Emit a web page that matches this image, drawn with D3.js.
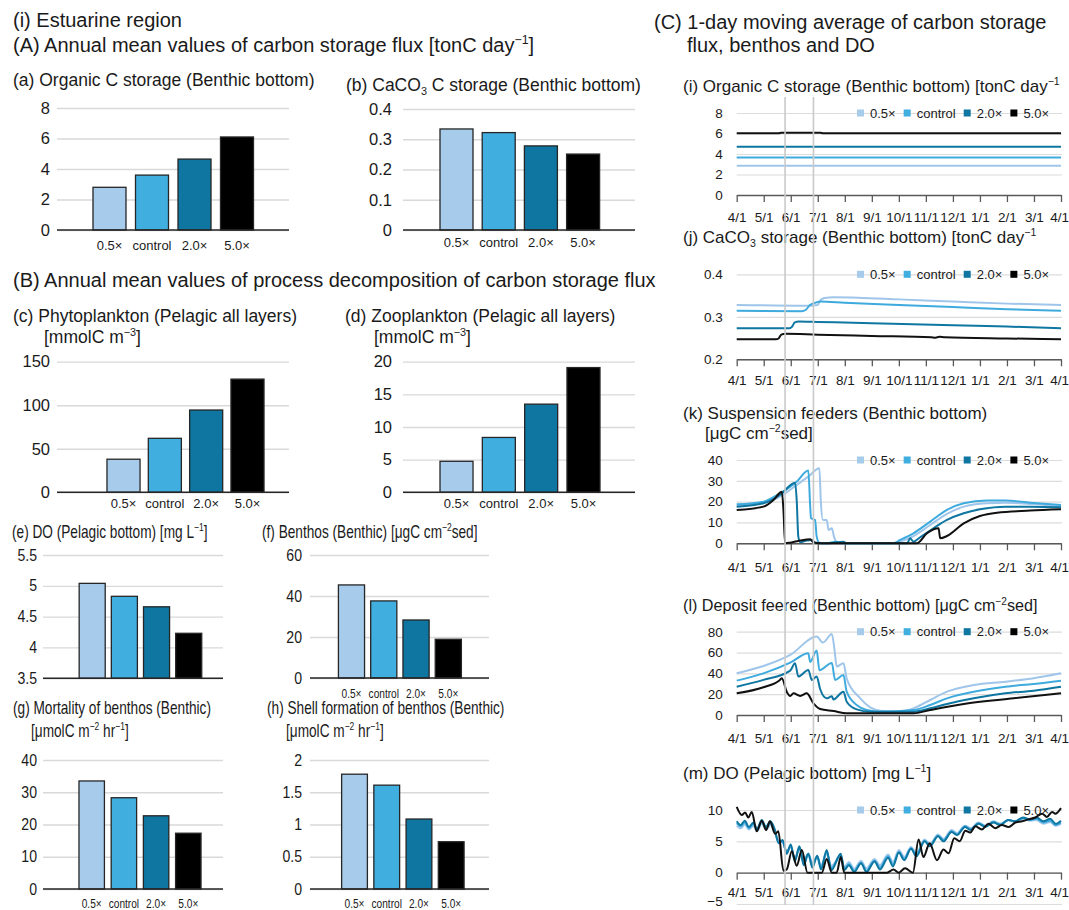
<!DOCTYPE html>
<html>
<head>
<meta charset="utf-8">
<script src="https://cdn.jsdelivr.net/npm/d3@7"></script>
<style>
  body { margin: 0; background: #fff; }
  svg { display: block; font-family: "Liberation Sans", Arial, Helvetica, sans-serif; }
</style>
</head>
<body>
<svg id="fig" width="1069" height="910"></svg>
<script>
// ---------------- data ----------------
const scenarios = ["0.5×", "control", "2.0×", "5.0×"];

// (A) annual mean carbon storage flux [tonC day-1]
const organicStorage = [2.8, 3.6, 4.65, 6.1];
const caco3Storage   = [0.334, 0.322, 0.278, 0.251];

// (B) annual mean process decomposition
const phytoplankton  = [38, 62, 94.5, 130];
const zooplankton    = [4.75, 8.4, 13.5, 19.1];
const doBottom       = [5.04, 4.83, 4.66, 4.23];
const benthos        = [45.4, 37.6, 28.3, 18.9];
const benthosMortality = [33.5, 28.3, 22.7, 17.3];
const shellFormation = [1.78, 1.61, 1.085, 0.733];

// (C) 1-day moving averages; x = months after 4/1
const monthLabels = ["4/1","5/1","6/1","7/1","8/1","9/1","10/1","11/1","12/1","1/1","2/1","3/1","4/1"];
const markerMonths = [1.79, 2.84];

const orgC_05   = [[0,2.85],[12,2.85]];
const orgC_ctrl = [[0,3.65],[12,3.65]];
const orgC_20   = [[0,4.7],[12,4.7]];
const orgC_50   = [[0,6.02],[1.55,6.02],[1.65,6.07],[3.1,6.07],[3.2,6.02],[12,6.02]];

const caco3_05   = [[0,0.328],[2.5,0.326],[3.0,0.328],[3.1,0.339],[3.25,0.344],[3.6,0.346],[4.5,0.345],[6,0.341],[8,0.336],[10,0.331],[12,0.328]];
const caco3_ctrl = [[0,0.314],[2.4,0.313],[2.55,0.316],[2.7,0.327],[2.95,0.334],[3.1,0.336],[4,0.333],[6,0.328],[8,0.323],[10,0.318],[12,0.314]];
const caco3_20   = [[0,0.273],[1.95,0.273],[2.05,0.277],[2.15,0.287],[2.3,0.289],[3,0.288],[5,0.285],[8,0.28],[10,0.277],[12,0.273]];
const caco3_50   = [[0,0.247],[1.45,0.247],[1.55,0.249],[1.65,0.258],[1.8,0.26],[3,0.258],[5,0.255],[7.2,0.252],[7.35,0.251],[7.5,0.253],[7.7,0.252],[10,0.249],[12,0.247]];

const susp_05   = [[0,17.9],[0.99,19.2],[1.6,22.4],[2.22,28],[2.65,32],[3.06,36],[3.11,20.8],[3.19,11.2],[3.33,11.2],[3.4,6.4],[3.52,7.2],[3.6,3.2],[3.7,0.5],[4.07,0],[5.8,0],[6.05,0.8],[6.54,3.5],[7.16,8.8],[7.78,14.1],[8.4,17.6],[9.26,19.2],[9.94,19.5],[10.86,18.9],[12,17.9]];
const susp_ctrl = [[0,18.7],[0.99,20],[1.6,24],[2.22,29.6],[2.65,34.9],[2.72,17.6],[2.75,12],[2.9,11.2],[2.96,3.2],[3.06,0.3],[3.33,0],[3.7,0.8],[3.83,0],[5.8,0],[6.05,1.6],[6.54,4.8],[7.16,10.4],[7.78,16],[8.4,19.2],[9.26,20.5],[9.94,20.5],[10.86,19.5],[12,18.4]];
const susp_20   = [[0,17.6],[0.99,19.2],[1.6,23.2],[2.16,29.1],[2.22,20.8],[2.28,3.2],[2.35,0.5],[2.59,1.3],[2.78,1.6],[2.9,0.3],[3.33,0],[3.95,0.8],[4.07,0],[6.3,0],[6.42,2.4],[6.54,0.8],[6.79,2.9],[7.28,7.2],[7.78,11.2],[8.4,14.4],[9.0,16.3],[9.94,17.6],[10.86,17.6],[12,17.3]];
const susp_50   = [[0,16],[0.99,17.6],[1.36,20.8],[1.67,24.8],[1.73,16],[1.79,0],[1.98,0.3],[2.35,1.3],[2.72,1.9],[2.84,0.5],[3.09,0],[6.67,0],[7.04,4.8],[7.47,7.2],[7.53,2.4],[7.78,3.5],[8.4,9.6],[9.0,13.1],[9.63,14.7],[10.86,15.7],[12,16.3]];

const deposit_05   = [[0,40],[0.99,47],[1.98,57.7],[2.96,75.3],[3.19,69.6],[3.52,77.9],[3.62,62.5],[3.7,46.5],[3.95,49.7],[4.07,35],[4.57,16],[4.94,7.4],[5.31,4.2],[5.93,3.2],[6.54,6.4],[7.16,14.4],[7.78,22.4],[8.77,28.8],[9.94,32],[10.99,35.3],[12,40]];
const deposit_ctrl = [[0,33],[0.99,40],[1.98,50.3],[2.65,59.3],[2.72,51],[2.96,61.9],[3.06,43],[3.52,50],[3.64,33.7],[3.95,38.5],[4.07,22.4],[4.44,9.6],[4.81,4.8],[5.31,3.2],[6.54,4.8],[7.16,9.6],[7.78,16],[8.77,22.4],[9.94,27.2],[10.99,29.8],[12,33]];
const deposit_20   = [[0,27.2],[0.99,33.7],[1.98,42.6],[2.16,49.7],[2.28,36.9],[2.65,43.3],[2.78,33.7],[2.96,36.9],[3.09,24.7],[3.33,16],[3.52,18],[3.58,15],[3.95,22.4],[4.07,12.8],[4.44,5.4],[4.94,3.2],[6.54,3.2],[7.16,6.4],[7.78,10.6],[8.77,16],[9.94,20.8],[10.99,23.4],[12,27.2]];
const deposit_50   = [[0,20.8],[0.99,26.6],[1.6,33.7],[1.67,35.3],[1.85,22.4],[1.98,18.3],[2.1,20.8],[2.35,18.3],[2.59,20.8],[2.84,11.2],[3.09,5.8],[3.58,3.8],[4.07,1.6],[6.54,1.6],[7.16,4.8],[8.4,10.6],[10.25,16],[12,21]];

const do_05   = [[0,7.5],[0.15,7.1],[0.3,7.7],[0.45,6.9],[0.62,7.5],[0.75,6.6],[0.93,7.8],[1.08,6.9],[1.25,7.6],[1.4,6.6],[1.55,5.1],[1.7,4.8],[1.85,3.5],[2.0,4.1],[2.15,2.3],[2.32,3.8],[2.48,1.9],[2.65,3.0],[2.8,1.6],[2.98,2.5],[3.12,1.2],[3.33,3.0],[3.5,1.1],[3.85,2.6],[3.98,0.9],[4.15,1.7],[4.35,0.6],[4.6,1.9],[4.8,0.7],[5.1,2.2],[5.3,1.2],[5.6,2.9],[5.78,1.7],[6.0,3.6],[6.2,2.5],[6.45,4.1],[6.65,3.1],[6.95,5.3],[7.15,4.6],[7.45,6.1],[7.65,5.4],[7.95,6.8],[8.15,6.3],[8.45,7.5],[8.65,7.1],[8.95,8.0],[9.2,7.5],[9.5,8.2],[9.75,7.8],[10.05,8.4],[10.3,8.1],[10.6,8.6],[10.85,8.3],[11.1,8.4],[11.35,7.8],[11.6,8.1],[11.8,7.5],[12,7.8]];
const do_ctrl = [[0,7.9],[0.15,7.4],[0.3,8.0],[0.45,7.1],[0.62,7.8],[0.75,6.8],[0.93,8.1],[1.08,7.1],[1.25,7.9],[1.4,6.8],[1.55,4.9],[1.7,5.0],[1.85,3.2],[2.0,4.3],[2.15,2.0],[2.32,4.0],[2.48,1.5],[2.65,3.0],[2.8,1.2],[2.98,2.6],[3.12,0.8],[3.33,3.3],[3.5,0.7],[3.85,2.8],[3.98,0.6],[4.15,1.4],[4.35,0.3],[4.6,1.6],[4.8,0.3],[5.1,1.9],[5.3,0.8],[5.6,2.6],[5.78,1.3],[6.0,3.3],[6.2,2.2],[6.45,3.9],[6.65,2.8],[6.95,5.1],[7.15,4.4],[7.45,5.9],[7.65,5.2],[7.95,6.6],[8.15,6.1],[8.45,7.4],[8.65,6.9],[8.95,7.9],[9.2,7.4],[9.5,8.1],[9.75,7.7],[10.05,8.4],[10.3,8.2],[10.6,8.7],[10.85,8.4],[11.1,8.6],[11.35,8.0],[11.6,8.3],[11.8,7.6],[12,8.0]];
const do_20   = [[0,8.2],[0.15,7.6],[0.3,8.3],[0.45,7.3],[0.62,8.0],[0.75,7.0],[0.93,8.4],[1.08,7.3],[1.25,8.2],[1.4,7.0],[1.55,4.7],[1.7,5.2],[1.85,3.0],[2.0,4.5],[2.15,1.8],[2.32,4.2],[2.48,1.2],[2.65,3.0],[2.8,0.8],[2.98,2.7],[3.12,0.5],[3.33,3.6],[3.5,0.4],[3.85,3.0],[3.98,0.4],[4.15,1.2],[4.35,0.1],[4.6,1.5],[4.8,0.1],[5.1,1.8],[5.3,0.5],[5.6,2.4],[5.78,1.0],[6.0,3.2],[6.2,2.0],[6.45,3.8],[6.65,2.6],[6.95,5.0],[7.15,4.2],[7.45,5.8],[7.65,5.0],[7.95,6.5],[8.15,6.0],[8.45,7.3],[8.65,6.8],[8.95,7.8],[9.2,7.3],[9.5,8.0],[9.75,7.6],[10.05,8.4],[10.3,8.2],[10.6,8.8],[10.85,8.5],[11.1,8.8],[11.35,8.2],[11.6,8.6],[11.8,7.8],[12,8.3]];
const do_50   = [[0,10.5],[0.19,9.2],[0.31,9.6],[0.43,8.8],[0.56,9.7],[0.74,6.6],[0.93,8.3],[1.09,6.8],[1.23,8.2],[1.42,6.2],[1.54,6.6],[1.73,0.3],[1.85,0.5],[2.04,3.4],[2.22,1.1],[2.41,3.6],[2.62,0],[3.15,0],[3.33,2.2],[3.52,0],[3.7,0],[3.85,2.5],[3.98,0],[5.56,0],[5.8,0.5],[5.99,0],[6.23,0.7],[6.52,0],[6.73,5.3],[6.91,2.5],[7.14,4.7],[7.41,2.0],[7.65,3.7],[7.84,3.1],[8.05,5.5],[8.25,5.0],[8.46,6.7],[8.64,6.4],[8.83,7.4],[9.07,6.9],[9.32,7.8],[9.57,7.1],[9.81,7.6],[10.06,7.3],[10.31,8.0],[10.56,8.2],[10.8,8.5],[11.05,8.8],[11.3,9.4],[11.48,8.9],[11.67,9.7],[11.79,9.4],[12,10.3]];

// ---------------- styling ----------------
const INK = "#1a1a1a";
const palette = ["#a6cbeb", "#41aee0", "#0e76a1", "#000000"];
const lineColors = ["#9fc6ea", "#3eaadd", "#0e76a1", "#111111"];
const X_RANGE = [736.7, 1061];

const svg = d3.select("#fig");
svg.append("rect").attr("width", 1069).attr("height", 910).attr("fill", "#fff");

// text with ^{..} superscripts and _{..} subscripts
function parseRich(s) {
  return s.split(/(\^\{[^}]*\}|_\{[^}]*\})/).filter(p => p.length).map(p => {
    if (p.startsWith("^{")) return { t: p.slice(2, -1), sup: true };
    if (p.startsWith("_{")) return { t: p.slice(2, -1), sub: true };
    return { t: p };
  });
}
function richText(g, x, yc, s, fs, sx = 1, anchor = "start") {
  const t = g.append("text")
    .attr("transform", `translate(${x},${yc + fs * 0.35}) scale(${sx},1)`)
    .attr("font-size", fs).attr("text-anchor", anchor).attr("fill", INK);
  let shift = 0;
  parseRich(s).forEach(p => {
    const ts = t.append("tspan").text(p.t);
    let target = 0;
    if (p.sup) { ts.attr("font-size", fs * 0.62); target = -fs * 0.38; }
    if (p.sub) { ts.attr("font-size", fs * 0.62); target = fs * 0.22; }
    if (target !== shift) { ts.attr("dy", target - shift); shift = target; }
  });
  return t;
}

// ---------------- headers ----------------
const head = svg.append("g");
const HEAD_FS = 20;
richText(head, 13, 20, "(i) Estuarine region", HEAD_FS);
richText(head, 13, 45, "(A) Annual mean values of carbon storage flux [tonC day^{−1}]", HEAD_FS);
richText(head, 13, 280, "(B) Annual mean values of process decomposition of carbon storage flux", HEAD_FS);
richText(head, 654, 22, "(C) 1-day moving average of carbon storage", HEAD_FS);
richText(head, 687, 45, "flux, benthos and DO", HEAD_FS);

// ---------------- bar panels ----------------
function barPanel(L, values) {
  const g = svg.append("g");
  const y = d3.scaleLinear().domain(L.domain).range([L.y0, L.y1]);
  const x = d3.scaleBand().domain(scenarios).range(L.band)
    .paddingInner(L.pad).paddingOuter(L.pad / 2);

  const ax = g.append("g").attr("transform", `translate(${L.gx[0]},0)`)
    .call(d3.axisLeft(y).tickValues(L.ticks)
      .tickSize(-(L.gx[1] - L.gx[0])).tickPadding((L.gx[0] - L.labelX) / L.sx)
      .tickFormat(d3.format("~g")));
  ax.select(".domain").remove();
  ax.attr("font-family", null).attr("font-size", L.tickFs);
  ax.selectAll(".tick line").attr("stroke", "#d9d9d9").attr("stroke-width", 1.3);
  ax.selectAll(".tick text").attr("fill", INK).attr("transform", `scale(${L.sx},1)`);

  g.selectAll("rect.bar").data(values).join("rect")
    .attr("class", "bar")
    .attr("x", (d, i) => x(scenarios[i]))
    .attr("y", d => y(d))
    .attr("width", x.bandwidth())
    .attr("height", d => y(L.domain[0]) - y(d))
    .attr("fill", (d, i) => palette[i])
    .attr("stroke", "#262626").attr("stroke-width", 1.3);

  g.append("line")
    .attr("x1", L.gx[0]).attr("x2", L.gx[1])
    .attr("y1", y(L.domain[0])).attr("y2", y(L.domain[0]))
    .attr("stroke", "#262626").attr("stroke-width", 1.4);

  if (L.catY) {
    g.selectAll("text.cat").data(scenarios).join("text")
      .attr("class", "cat")
      .attr("transform", d => `translate(${x(d) + x.bandwidth() / 2},${L.catY + L.catFs * 0.35}) scale(${L.catSx},1)`)
      .attr("text-anchor", "middle").attr("font-size", L.catFs).attr("fill", INK)
      .text(d => d);
  }
  L.titles.forEach(t => richText(g, t.x, t.y, t.s, L.titleFs, L.titleSx));
}

const upperStyle = { titleFs: 17.5, titleSx: 1, tickFs: 16.5, sx: 1, catFs: 13, catSx: 1 };
const lowerStyle = { titleFs: 17.5, titleSx: 0.78, tickFs: 16, sx: 0.88, catFs: 13, catSx: 0.78 };

barPanel({ ...upperStyle, gx: [57, 289], y0: 230, y1: 108, domain: [0, 8], ticks: [0, 2, 4, 6, 8],
  band: [88.25, 258.25], pad: 0.2235, labelX: 50, catY: 245,
  titles: [{ x: 13, y: 80, s: "(a) Organic C storage (Benthic bottom)" }] }, organicStorage);

barPanel({ ...upperStyle, gx: [403, 635], y0: 230, y1: 109, domain: [0, 0.4], ticks: [0, 0.1, 0.2, 0.3, 0.4],
  band: [435.4, 604.2], pad: 0.218, labelX: 392, catY: 242,
  titles: [{ x: 346, y: 85, s: "(b) CaCO_{3} C storage (Benthic bottom)" }] }, caco3Storage);

barPanel({ ...upperStyle, gx: [57, 289], y0: 492.3, y1: 361.7, domain: [0, 150], ticks: [0, 50, 100, 150],
  band: [102.85, 268.15], pad: 0.2, labelX: 50, catY: 503,
  titles: [{ x: 13, y: 316, s: "(c) Phytoplankton (Pelagic all layers)" },
           { x: 44, y: 337, s: "[mmolC m^{−3}]" }] }, phytoplankton);

barPanel({ ...upperStyle, gx: [403, 635], y0: 492.3, y1: 361.7, domain: [0, 20], ticks: [0, 5, 10, 15, 20],
  band: [435.35, 604.65], pad: 0.22, labelX: 392, catY: 503,
  titles: [{ x: 345, y: 316, s: "(d) Zooplankton (Pelagic all layers)" },
           { x: 374, y: 337, s: "[mmolC m^{−3}]" }] }, zooplankton);

barPanel({ ...lowerStyle, gx: [43, 223], y0: 678.3, y1: 555, domain: [3.5, 5.5], ticks: [3.5, 4, 4.5, 5, 5.5],
  band: [76.1, 204.8], pad: 0.19, labelX: 37, catY: null,
  titles: [{ x: 12, y: 532, s: "(e) DO (Pelagic bottom) [mg L^{−1}]" }] }, doBottom);

barPanel({ ...lowerStyle, gx: [310, 489], y0: 678, y1: 555, domain: [0, 60], ticks: [0, 20, 40, 60],
  band: [335.35, 464.45], pad: 0.19, labelX: 302, catY: 693,
  titles: [{ x: 262, y: 532, s: "(f) Benthos (Benthic) [μgC cm^{−2}sed]" }] }, benthos);

barPanel({ ...lowerStyle, gx: [43, 223], y0: 889, y1: 760, domain: [0, 40], ticks: [0, 10, 20, 30, 40],
  band: [75.6, 204.4], pad: 0.21, labelX: 37, catY: 903,
  titles: [{ x: 13, y: 708, s: "(g) Mortality of benthos (Benthic)" },
           { x: 31, y: 731, s: "[μmolC m^{−2} hr^{−1}]" }] }, benthosMortality);

barPanel({ ...lowerStyle, gx: [310, 489], y0: 889, y1: 760, domain: [0, 2], ticks: [0, 0.5, 1, 1.5, 2],
  band: [338.4, 467.3], pad: 0.2, labelX: 302, catY: 903,
  titles: [{ x: 267, y: 708, s: "(h) Shell formation of benthos (Benthic)" },
           { x: 286, y: 731, s: "[μmolC m^{−2} hr^{−1}]" }] }, shellFormation);

// ---------------- time-series panels ----------------
const xMonth = d3.scaleLinear().domain([0, 12]).range(X_RANGE);

function linePanel(L, series) {
  const g = svg.append("g");
  const y = d3.scaleLinear().domain(L.domain).range([L.y0, L.y1]);
  const axisY = y(L.axisAt);

  const ay = g.append("g").attr("transform", `translate(${X_RANGE[0]},0)`)
    .call(d3.axisLeft(y).tickValues(L.ticks).tickSize(-(X_RANGE[1] - X_RANGE[0] + 1))
      .tickPadding(14).tickFormat(d3.format("~g")));
  ay.select(".domain").remove();
  ay.attr("font-family", null).attr("font-size", 13.5);
  ay.selectAll(".tick line").attr("stroke", "#dcdcdc").attr("stroke-width", 1.2);
  ay.selectAll(".tick text").attr("fill", INK);
  // a label sitting on the page's bottom edge is lifted slightly
  ay.selectAll(".tick text").filter(d => y(d) > 900).attr("y", -3);

  const ax = g.append("g").attr("transform", `translate(0,${axisY})`)
    .call(d3.axisBottom(xMonth).tickValues(d3.range(13)).tickFormat(i => monthLabels[i])
      .tickSize(7).tickSizeOuter(0).tickPadding(L.labPad));
  ax.attr("font-family", null).attr("font-size", 13.5);
  ax.select(".domain").attr("stroke", "#595959").attr("stroke-width", 1.4);
  ax.selectAll(".tick line").attr("stroke", "#595959").attr("stroke-width", 1.3);
  ax.selectAll(".tick text").attr("fill", INK);
  // keep the last month label inside the page edge
  ax.selectAll(".tick text").filter(d => d === 12).attr("text-anchor", "end").attr("x", 7.5);

  const line = d3.line().x(d => xMonth(d[0])).y(d => y(d[1])).curve(d3.curveMonotoneX);
  g.selectAll("path.series").data(series).join("path")
    .attr("class", "series")
    .attr("d", line).attr("fill", "none")
    .attr("stroke", (d, i) => lineColors[i]).attr("stroke-width", 2)
    .attr("stroke-linejoin", "round");

  // legend on the top gridline
  const lg = g.append("g");
  let lx = 857;
  const ly = y(L.domain[1]);
  scenarios.forEach((s, i) => {
    lg.append("rect").attr("x", lx).attr("y", ly - 3.5).attr("width", 7).attr("height", 7)
      .attr("fill", palette[i]);
    const t = lg.append("text").attr("x", lx + 13).attr("y", ly + 13 * 0.35)
      .attr("font-size", 13).attr("fill", INK).text(s);
    lx += 13 + t.node().getComputedTextLength() + 8;
  });

  L.titles.forEach(t => richText(g, t.x, t.y, t.s, t.fs || 17));
}

linePanel({ domain: [0, 8], y0: 195, y1: 113, ticks: [0, 2, 4, 6, 8], axisAt: 0, labPad: 10,
  titles: [{ x: 683, y: 86, s: "(i) Organic C storage (Benthic bottom) [tonC day^{−1}" }] },
  [orgC_05, orgC_ctrl, orgC_20, orgC_50]);

linePanel({ domain: [0.2, 0.4], y0: 359.3, y1: 274.3, ticks: [0.2, 0.3, 0.4], axisAt: 0.2, labPad: 9,
  titles: [{ x: 683, y: 237, s: "(j) CaCO_{3} storage (Benthic bottom) [tonC day^{−1}" }] },
  [caco3_05, caco3_ctrl, caco3_20, caco3_50]);

linePanel({ domain: [0, 40], y0: 543.3, y1: 460, ticks: [0, 10, 20, 30, 40], axisAt: 0, labPad: 12,
  titles: [{ x: 683, y: 413, s: "(k) Suspension feeders (Benthic bottom)" },
           { x: 705, y: 433, s: "[μgC cm^{−2}sed]" }] },
  [susp_05, susp_ctrl, susp_20, susp_50]);

linePanel({ domain: [0, 80], y0: 715, y1: 631.7, ticks: [0, 20, 40, 60, 80], axisAt: 0, labPad: 11,
  titles: [{ x: 683, y: 605, s: "(l) Deposit feered (Benthic bottom) [μgC cm^{−2}sed]", fs: 16.2 }] },
  [deposit_05, deposit_ctrl, deposit_20, deposit_50]);

linePanel({ domain: [-5, 10], y0: 904, y1: 810, ticks: [-5, 0, 5, 10], axisAt: 0, labPad: 8,
  titles: [{ x: 683, y: 773, s: "(m) DO (Pelagic bottom) [mg L^{−1}]" }] },
  [do_05, do_ctrl, do_20, do_50]);

// vertical markers spanning the time-series column
svg.append("g").selectAll("line").data(markerMonths).join("line")
  .attr("x1", d => xMonth(d)).attr("x2", d => xMonth(d))
  .attr("y1", 97).attr("y2", 905)
  .attr("stroke", "#c9c9c9").attr("stroke-width", 1.6);
</script>
</body>
</html>
